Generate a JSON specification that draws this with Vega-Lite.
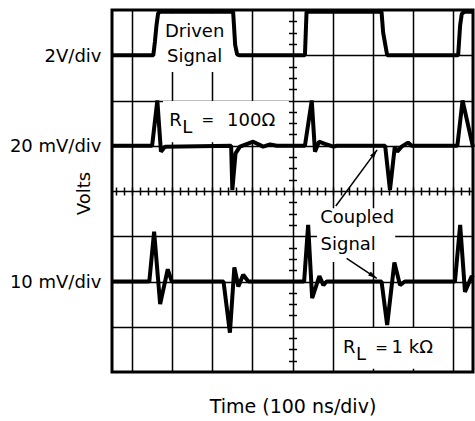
{
  "$schema": "https://vega.github.io/schema/vega-lite/v6.json",
  "width": 361,
  "height": 362,
  "autosize": {"type": "none"},
  "padding": {"left": 112, "top": 10, "right": 2, "bottom": 49},
  "background": "white",
  "config": {
    "view": {"stroke": "black", "strokeWidth": 3},
    "font": "DejaVu Sans",
    "axis": {"labelFont": "DejaVu Sans", "titleFont": "DejaVu Sans", "labelColor": "black", "titleColor": "black", "titleFontWeight": "normal"}
  },
  "datasets": {
    "traces": [
      {"trace": "d", "t": 0, "v": 7.0}, {"trace": "d", "t": 1.03, "v": 7.0}, {"trace": "d", "t": 1.07, "v": 7.3}, {"trace": "d", "t": 1.11, "v": 7.67}, {"trace": "d", "t": 1.15, "v": 7.93}, {"trace": "d", "t": 1.2, "v": 7.96}, {"trace": "d", "t": 3.02, "v": 7.96}, {"trace": "d", "t": 3.04, "v": 7.67}, {"trace": "d", "t": 3.07, "v": 7.23}, {"trace": "d", "t": 3.12, "v": 7.02}, {"trace": "d", "t": 3.17, "v": 7.0}, {"trace": "d", "t": 4.81, "v": 7.0}, {"trace": "d", "t": 4.85, "v": 7.96}, {"trace": "d", "t": 6.72, "v": 7.96}, {"trace": "d", "t": 6.76, "v": 7.5}, {"trace": "d", "t": 6.86, "v": 7.0}, {"trace": "d", "t": 8.63, "v": 7.0}, {"trace": "d", "t": 8.68, "v": 7.67}, {"trace": "d", "t": 8.72, "v": 7.91}, {"trace": "d", "t": 8.78, "v": 7.96}, {"trace": "d", "t": 9.0, "v": 7.96},
      {"trace": "m", "t": 0, "v": 5.0}, {"trace": "m", "t": 1.0, "v": 5.0}, {"trace": "m", "t": 1.13, "v": 6.0}, {"trace": "m", "t": 1.22, "v": 4.87}, {"trace": "m", "t": 1.32, "v": 4.98}, {"trace": "m", "t": 2.97, "v": 5.0}, {"trace": "m", "t": 3.0, "v": 4.02}, {"trace": "m", "t": 3.08, "v": 4.83}, {"trace": "m", "t": 3.19, "v": 4.98}, {"trace": "m", "t": 3.52, "v": 5.09}, {"trace": "m", "t": 3.77, "v": 4.98}, {"trace": "m", "t": 3.94, "v": 5.03}, {"trace": "m", "t": 4.11, "v": 5.0}, {"trace": "m", "t": 4.81, "v": 5.0}, {"trace": "m", "t": 4.98, "v": 6.0}, {"trace": "m", "t": 5.06, "v": 4.87}, {"trace": "m", "t": 5.16, "v": 5.09}, {"trace": "m", "t": 5.31, "v": 5.04}, {"trace": "m", "t": 5.52, "v": 4.98}, {"trace": "m", "t": 5.6, "v": 5.0}, {"trace": "m", "t": 6.81, "v": 5.0}, {"trace": "m", "t": 6.93, "v": 4.02}, {"trace": "m", "t": 7.05, "v": 4.98}, {"trace": "m", "t": 7.11, "v": 4.87}, {"trace": "m", "t": 7.22, "v": 4.98}, {"trace": "m", "t": 7.38, "v": 5.07}, {"trace": "m", "t": 7.47, "v": 5.0}, {"trace": "m", "t": 8.61, "v": 5.0}, {"trace": "m", "t": 8.74, "v": 6.0}, {"trace": "m", "t": 9.0, "v": 4.97},
      {"trace": "k", "t": 0, "v": 2.0}, {"trace": "k", "t": 0.93, "v": 2.0}, {"trace": "k", "t": 1.05, "v": 3.1}, {"trace": "k", "t": 1.2, "v": 1.5}, {"trace": "k", "t": 1.39, "v": 2.27}, {"trace": "k", "t": 1.49, "v": 2.0}, {"trace": "k", "t": 2.78, "v": 2.0}, {"trace": "k", "t": 2.94, "v": 0.87}, {"trace": "k", "t": 3.05, "v": 2.31}, {"trace": "k", "t": 3.15, "v": 1.89}, {"trace": "k", "t": 3.27, "v": 2.15}, {"trace": "k", "t": 3.4, "v": 2.0}, {"trace": "k", "t": 4.79, "v": 2.0}, {"trace": "k", "t": 4.89, "v": 3.25}, {"trace": "k", "t": 4.99, "v": 1.63}, {"trace": "k", "t": 5.17, "v": 2.12}, {"trace": "k", "t": 5.27, "v": 1.92}, {"trace": "k", "t": 5.35, "v": 2.0}, {"trace": "k", "t": 6.72, "v": 2.0}, {"trace": "k", "t": 6.86, "v": 1.04}, {"trace": "k", "t": 7.04, "v": 2.42}, {"trace": "k", "t": 7.18, "v": 1.92}, {"trace": "k", "t": 7.3, "v": 2.0}, {"trace": "k", "t": 8.55, "v": 2.0}, {"trace": "k", "t": 8.68, "v": 3.25}, {"trace": "k", "t": 8.8, "v": 1.77}, {"trace": "k", "t": 8.97, "v": 2.12}, {"trace": "k", "t": 9.0, "v": 2.08}
    ],
    "boxes": [
      {"x1": 1.06, "x2": 3.13, "y1": 6.63, "y2": 7.93},
      {"x1": 1.27, "x2": 4.41, "y1": 5.08, "y2": 5.99},
      {"x1": 5.11, "x2": 7.06, "y1": 2.43, "y2": 3.62},
      {"x1": 5.56, "x2": 8.43, "y1": 0.07, "y2": 0.97}
    ],
    "labels": [
      {"x": 1.32, "y": 7.41, "t": "Driven"},
      {"x": 1.37, "y": 6.86, "t": "Signal"},
      {"x": 1.43, "y": 5.44, "t": "R"},
      {"x": 1.75, "y": 5.29, "t": "L"},
      {"x": 2.23, "y": 5.46, "t": "="},
      {"x": 2.87, "y": 5.44, "t": "100Ω"},
      {"x": 5.19, "y": 3.29, "t": "Coupled"},
      {"x": 5.2, "y": 2.7, "t": "Signal"},
      {"x": 5.76, "y": 0.41, "t": "R"},
      {"x": 6.08, "y": 0.26, "t": "L"},
      {"x": 6.56, "y": 0.42, "t": "="},
      {"x": 6.97, "y": 0.41, "t": "1 kΩ"}
    ],
    "arrows": [
      {"id": 1, "x1": 5.58, "y1": 3.67, "x2": 6.61, "y2": 4.91},
      {"id": 2, "x1": 5.85, "y1": 2.51, "x2": 6.6, "y2": 2.07}
    ]
  },
  "resolve": {"axis": {"x": "independent", "y": "independent"}},
  "layer": [
    {
      "data": {"name": "boxes"},
      "mark": {"type": "rect", "fill": "white", "strokeWidth": 0},
      "encoding": {
        "x": {
          "field": "x1", "type": "quantitative",
          "scale": {"domain": [0, 9], "nice": false, "zero": false},
          "axis": {
            "orient": "bottom",
            "values": [0.5, 1.5, 2.5, 3.5, 4.5, 5.5, 6.5, 7.5, 8.5],
            "grid": true, "gridColor": "black", "gridWidth": 1.5, "gridOpacity": 1,
            "ticks": false, "labels": false, "domain": false,
            "title": "Time (100 ns/div)",
            "titleFontSize": 19, "titleX": 180.5, "titleY": 40,
            "titleAlign": "center", "titleBaseline": "alphabetic"
          }
        },
        "x2": {"field": "x2"},
        "y": {
          "field": "y1", "type": "quantitative",
          "scale": {"domain": [0, 8], "nice": false, "zero": false},
          "axis": {
            "orient": "left",
            "values": [1, 2, 3, 4, 5, 6, 7],
            "grid": true, "gridColor": "black", "gridWidth": 1.5, "gridOpacity": 1,
            "ticks": false, "domain": false,
            "labelExpr": "datum.value == 7 ? '2V/div' : datum.value == 5 ? '20 mV/div' : datum.value == 2 ? '10 mV/div' : ''",
            "labelFontSize": 18, "labelPadding": 11, "labelOffset": 1,
            "title": "Volts",
            "titleFontSize": 18, "titleAngle": -90, "titleX": -22.7, "titleY": 183,
            "titleAlign": "center", "titleBaseline": "alphabetic"
          }
        },
        "y2": {"field": "y2"}
      }
    },
    {
      "data": {"name": "traces"},
      "mark": {"type": "line", "color": "black", "strokeWidth": 4, "strokeJoin": "bevel"},
      "encoding": {
        "x": {
          "field": "t", "type": "quantitative",
          "axis": {
            "orient": "bottom", "offset": -185,
            "values": [0.1, 0.3, 0.5, 0.7, 0.9, 1.1, 1.3, 1.5, 1.7, 1.9, 2.1, 2.3, 2.5, 2.7, 2.9, 3.1, 3.3, 3.5, 3.7, 3.9, 4.1, 4.3, 4.5, 4.7, 4.9, 5.1, 5.3, 5.5, 5.7, 5.9, 6.1, 6.3, 6.5, 6.7, 6.9, 7.1, 7.3, 7.5, 7.7, 7.9, 8.1, 8.3, 8.5, 8.7, 8.9],
            "ticks": true, "tickSize": 8, "tickColor": "black", "tickWidth": 1.5,
            "labels": false, "domain": false, "grid": false, "title": null
          }
        },
        "y": {
          "field": "v", "type": "quantitative",
          "axis": {
            "orient": "left", "offset": -184.5,
            "values": [0.25, 0.5, 0.75, 1.25, 1.5, 1.75, 2.25, 2.5, 2.75, 3.25, 3.5, 3.75, 4.25, 4.5, 4.75, 5.25, 5.5, 5.75, 6.25, 6.5, 6.75, 7.25, 7.5, 7.75],
            "ticks": true, "tickSize": 8, "tickColor": "black", "tickWidth": 1.5,
            "labels": false, "domain": false, "grid": false, "title": null
          }
        },
        "detail": {"field": "trace", "type": "nominal"},
        "order": {"value": null}
      }
    },
    {
      "data": {"name": "arrows"},
      "mark": {"type": "rule", "color": "black", "strokeWidth": 1.5},
      "encoding": {
        "x": {"field": "x1", "type": "quantitative", "axis": null},
        "y": {"field": "y1", "type": "quantitative", "axis": null},
        "x2": {"field": "x2"},
        "y2": {"field": "y2"}
      }
    },
    {
      "data": {"name": "arrows"},
      "transform": [{"filter": "datum.id == 1"}],
      "mark": {"type": "point", "shape": "M0,0L0.6,2.2L-0.6,2.2Z", "filled": true, "color": "black", "opacity": 1, "size": 64, "angle": 36},
      "encoding": {
        "x": {"field": "x2", "type": "quantitative", "axis": null},
        "y": {"field": "y2", "type": "quantitative", "axis": null}
      }
    },
    {
      "data": {"name": "arrows"},
      "transform": [{"filter": "datum.id == 2"}],
      "mark": {"type": "point", "shape": "M0,0L0.6,2.2L-0.6,2.2Z", "filled": true, "color": "black", "opacity": 1, "size": 64, "angle": 124},
      "encoding": {
        "x": {"field": "x2", "type": "quantitative", "axis": null},
        "y": {"field": "y2", "type": "quantitative", "axis": null}
      }
    },
    {
      "data": {"name": "labels"},
      "transform": [{"filter": "datum.t != '='"}],
      "mark": {"type": "text", "align": "left", "baseline": "alphabetic", "font": "DejaVu Sans", "fontSize": 18, "color": "black"},
      "encoding": {
        "x": {"field": "x", "type": "quantitative", "axis": null},
        "y": {"field": "y", "type": "quantitative", "axis": null},
        "text": {"field": "t", "type": "nominal"}
      }
    },
    {
      "data": {"name": "labels"},
      "transform": [{"filter": "datum.t == '='"}],
      "mark": {"type": "text", "align": "left", "baseline": "alphabetic", "font": "DejaVu Sans", "fontSize": 15, "color": "black"},
      "encoding": {
        "x": {"field": "x", "type": "quantitative", "axis": null},
        "y": {"field": "y", "type": "quantitative", "axis": null},
        "text": {"field": "t", "type": "nominal"}
      }
    }
  ]
}
